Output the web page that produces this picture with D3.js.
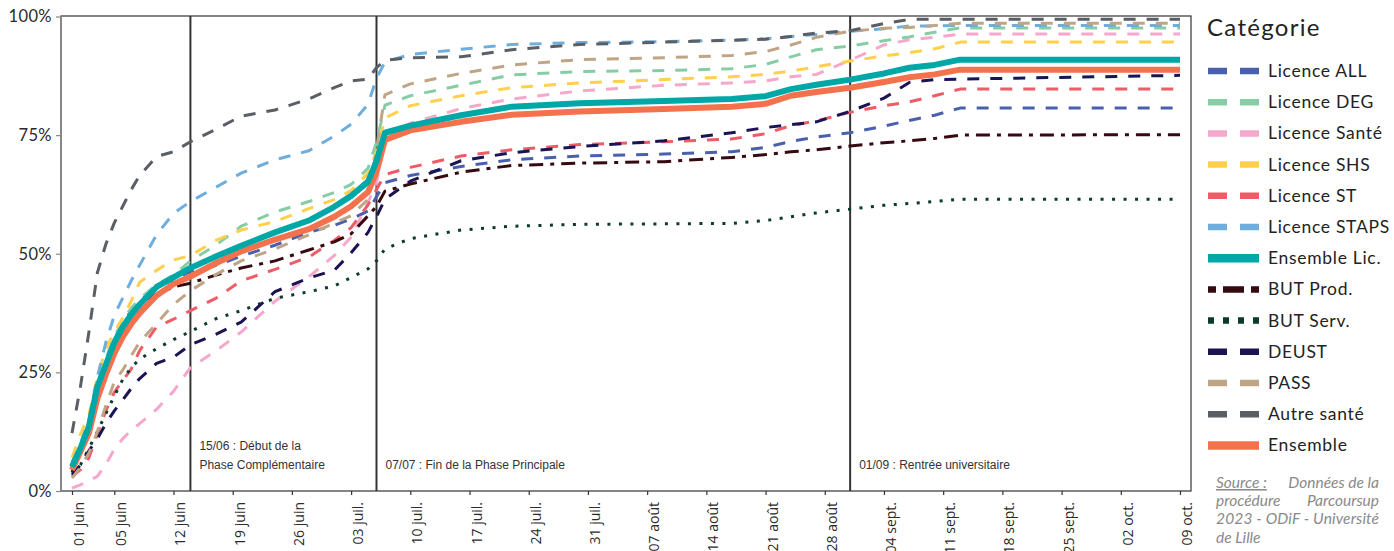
<!DOCTYPE html>
<html><head><meta charset="utf-8">
<script src="https://cdn.jsdelivr.net/npm/d3@7"></script>
<style>body{margin:0;background:#fff} svg{display:block}</style>
</head><body><svg id="c" width="1394" height="551"></svg>
<script>
// ---- DATA ----
const days = [0,1,2,3,4,5,6,7,8,10,12,14,17,20,24,28,31,33,35,36,37,40,46,52,60,70,78,82,85,88,92,96,99,102,105,131];
const tickDays = [0,5,12,19,26,33,40,47,54,61,68,75,82,89,96,103,110,117,124,131];
const tickLabels = ["01 juin","05 juin","12 juin","19 juin","26 juin","03 juil.","10 juil.","17 juil.","24 juil.","31 juil.","07 août","14 août","21 août","28 août","04 sept.","11 sept.","18 sept.","25 sept.","02 oct.","09 oct."];
const yTicks = [0,25,50,75,100];
const yLabels = ["0%","25%","50%","75%","100%"];
const eventDays = [14,36,92];
const eventLabels = [["15/06 : Début de la","Phase Complémentaire"],["07/07 : Fin de la Phase Principale"],["01/09 : Rentrée universitaire"]];

const categories = ["Licence ALL","Licence DEG","Licence Santé","Licence SHS","Licence ST","Licence STAPS","Ensemble Lic.","BUT Prod.","BUT Serv.","DEUST","PASS","Autre santé","Ensemble"];
const licenceALL   = [5.5,9.5,14,22.5,27.6,32,35.5,38,40,43,44.5,46.3,47.5,49.5,51.8,54.5,56,57.3,59,62,65,66.5,68.4,69.8,70.6,71,71.5,72.4,73.7,74.6,75.5,76.9,78.1,79.2,80.7,80.7];
const licenceDEG   = [6,10,14,22.5,28,32.5,36,38.5,40.5,43.5,45.5,48.5,51.8,55.8,58.8,61,62.9,64.6,68,73.5,81.3,83.3,85.5,87.7,88.4,88.6,89,89.9,91.5,93,93.8,94.9,95.7,96.7,97.6,97.6];
const licenceSante = [0.6,1.3,2.2,3.1,5.6,8.8,11,12.8,14.2,17.2,21,26,29.5,33.5,40,45.1,49.6,53.5,60.8,65,74,77.5,80.6,82.6,84.3,85.5,86,86.4,87.3,87.8,90.8,94,95.1,95.6,96.3,96.3];
const licenceSHS   = [7,12,16,24,30,33.5,36.5,40,44,46.5,48.7,49.6,52.8,55,56.8,59.5,61.4,63.3,67,71.5,78.6,81.2,83.3,85,86,86.7,87.3,87.8,88.5,89.4,90.6,91.7,92.4,93.2,94.6,94.6];
const licenceST    = [3,4.5,7,12,16.9,20.8,23.3,25.7,29.6,34.6,36.2,38,40.6,44.3,46.7,49.3,52.8,55.5,60.3,63.5,66.7,68.2,70.6,71.9,73,73.6,74.2,75.3,77,78,79.8,81.2,82,83.3,84.7,84.7];
const licenceSTAPS = [6,10,15,24,31.3,37,40.7,44.3,47.6,54,58.5,61,64,67,69.8,71.7,74.8,77.3,81.5,87,90.4,92,93.1,94.1,94.5,94.7,95,95.3,95.8,96.2,96.9,97.4,98,98,98.1,98.1];
const ensembleLic  = [5.1,9,13.6,22,26.6,31.3,34.6,37.2,39.3,43,45,47,49.4,51.7,54.5,57,59.9,62.2,65.2,69.5,75.5,77,79.2,81,81.7,82.2,82.6,83.2,84.7,85.6,86.7,88,89.2,89.8,90.9,90.9];
const butProd      = [4,8,12,21,26,30.5,34,36.8,39.2,41.5,43,43.8,45.5,47,48.5,50.8,52.5,54.2,58,60,63.2,64.7,67.2,68.6,69.1,69.4,70.3,70.9,71.5,71.9,72.7,73.4,73.8,74.3,75,75.1];
const butServ      = [3.8,5.5,9,12.5,16.3,20,23.5,26,27.8,30,31.9,33.6,36.3,38,40.6,42,43.2,45,46.8,48.5,51,53.2,55,55.8,56.2,56.3,56.4,57,57.8,58.6,59.4,60.2,60.6,61,61.5,61.5];
const deust        = [3.4,5.5,8.5,11,14.2,16.9,19.2,21.6,23.7,26.9,28.2,30.8,33,35.6,42,44.9,46.5,50.2,54.5,57.8,61.5,65.3,69.6,71.3,72.6,73.8,75.5,76.6,77.2,77.8,80,82.8,86.1,86.7,86.8,87.6];
const pass         = [2.7,5,8,12.5,18,23,25.5,28.5,31.4,35.3,39.3,42.2,45.6,48.5,51,54,56.5,58,61.5,72,83.5,85.8,88,89.8,90.9,91.3,91.8,92.6,94,95.6,96.9,97.5,97.7,98.1,98.6,98.6];
const autreSante   = [12.2,22,33.5,46,52,56.5,60,63.5,66.5,70.5,71.5,73.6,76.2,79,80.3,82.6,85,86.4,86.8,89.2,90.8,91.3,91.5,93,94.1,94.6,95,95.2,95.8,96.5,97,98.5,99.4,99.4,99.4,99.4];
const ensemble     = [4.4,8.3,12.2,19.5,24.5,29,32.5,35.2,37.5,41.2,43.6,45.2,48,50.5,53,55.2,57.8,60,63,67.2,74,76,77.8,79.3,80,80.5,81,81.6,83.3,84.1,85,86.2,87.2,87.8,88.8,88.8];
const seriesValues = [licenceALL,licenceDEG,licenceSante,licenceSHS,licenceST,licenceSTAPS,ensembleLic,butProd,butServ,deust,pass,autreSante,ensemble];

// ---- STYLE ----
const colors = ["#4A60AC","#86CDA6","#F5A8CB","#FFCF4E","#EF5B66","#6DAEDF","#00A7A7","#360A10","#0A3B2D","#1A1452","#BEA586","#5A5F66","#F4714D"];
const kinds  = ["dash","dash","dash","dash","dash","dash","solid","dotdash","dot","dash","dash","dash","solid"];
const plotDash = {dash:"12,11", dot:"3,8.5", dotdash:"14,7,4,7", solid:null};
const keyDash  = {dash:"19,13", dot:"6,9", dotdash:"8,7,21,7,8,60", solid:null};

const svg = d3.select("#c");
const P = {l:61, t:16, r:1191, b:491};
const x = d3.scaleLinear().domain([0,131]).range([72,1180]);
const y = d3.scaleLinear().domain([0,100]).range([491,16.5]);

// panel border
svg.append("rect").attr("x",P.l).attr("y",P.t).attr("width",P.r-P.l).attr("height",P.b-P.t)
  .attr("fill","none").attr("stroke","#333").attr("stroke-width",1.2);
svg.append("line").attr("x1",P.l).attr("x2",P.l).attr("y1",P.t).attr("y2",P.b).attr("stroke","#888").attr("stroke-width",1.5);

// y axis
const ya = svg.append("g").attr("transform",`translate(${P.l},0)`)
  .call(d3.axisLeft(y).tickValues(yTicks).tickFormat((d,i)=>yLabels[i]).tickSize(5).tickPadding(4));
ya.select(".domain").remove();
ya.selectAll("line").attr("stroke","#888").attr("stroke-width",1.2);
ya.selectAll("text").style("font-family","Lato, sans-serif").style("font-size","16.5px").style("letter-spacing","0.4px").attr("fill","#2b2b2b");

// x axis
const xa = svg.append("g").attr("transform",`translate(0,${P.b})`)
  .call(d3.axisBottom(x).tickValues(tickDays).tickFormat((d,i)=>tickLabels[i]).tickSize(4));
xa.select(".domain").remove();
xa.selectAll("line").attr("stroke","#333").attr("stroke-width",1.2);
xa.selectAll("text").attr("transform","rotate(-90)").attr("text-anchor","end")
  .attr("x",-11).attr("y",11.5).attr("dy",null)
  .style("font-family","'Open Sans', sans-serif").style("font-size","14px").attr("fill","#2b2b2b");

// event lines
eventDays.forEach((d,i)=>{
  svg.append("line").attr("x1",x(d)).attr("x2",x(d)).attr("y1",P.t).attr("y2",P.b)
    .attr("stroke","#333").attr("stroke-width",2);
  const lines = eventLabels[i];
  lines.forEach((t,j)=>{
    svg.append("text").attr("x",x(d)+9).attr("y",469 - (lines.length-1-j)*19).text(t)
      .style("font-family","'Liberation Sans', Arial, sans-serif").style("font-size","12px").attr("fill","#333");
  });
});

// lines
const line = d3.line().x((d,i)=>x(days[i])).y(d=>y(d));
const order = [0,1,2,3,4,5,7,8,9,10,11,12,6];
const lg = svg.append("g");
order.forEach(k=>{
  const p = lg.append("path").datum(seriesValues[k]).attr("d",line)
    .attr("fill","none").attr("stroke",colors[k])
    .attr("stroke-width", kinds[k]==="solid"?6:3)
    .attr("stroke-linejoin","round");
  if (plotDash[kinds[k]]) p.attr("stroke-dasharray",plotDash[kinds[k]]);
});

// legend
const leg = svg.append("g");
leg.append("text").attr("x",1207).attr("y",36).text("Catégorie")
  .style("font-family","Lato, sans-serif").style("font-size","24px").style("letter-spacing","1.3px").attr("fill","#222");
categories.forEach((c,i)=>{
  const cy = 71 + i*31.2;
  const l = leg.append("line").attr("x1",1208).attr("x2",1259).attr("y1",cy).attr("y2",cy)
    .attr("stroke",colors[i]).attr("stroke-width",kinds[i]==="solid"?8.5:6.5);
  if (keyDash[kinds[i]]) l.attr("stroke-dasharray",keyDash[kinds[i]]);
  leg.append("text").attr("x",1268).attr("y",cy+6).text(c)
    .style("font-family","Lato, sans-serif").style("font-size","17.5px").style("letter-spacing","0.7px").attr("fill","#222");
});

// source
const sf = s=>s.style("font-family","Lato, sans-serif").style("font-size","15.5px").style("font-style","italic").attr("fill","#8a8a8a");
sf(svg.append("text").attr("x",1216).attr("y",488).text("Source :").style("text-decoration","underline"));
sf(svg.append("text").attr("x",1379).attr("y",488).attr("text-anchor","end").text("Données de la"));
sf(svg.append("text").attr("x",1216).attr("y",506).text("procédure"));
sf(svg.append("text").attr("x",1379).attr("y",506).attr("text-anchor","end").text("Parcoursup"));
sf(svg.append("text").attr("x",1216).attr("y",524).attr("textLength",163).attr("lengthAdjust","spacing").text("2023 - ODiF - Université"));
sf(svg.append("text").attr("x",1216).attr("y",543).text("de Lille"));
</script></body></html>
